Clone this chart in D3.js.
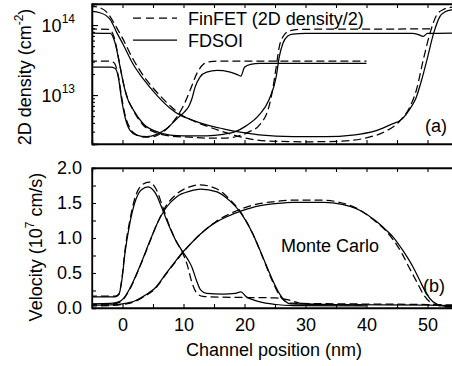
<!DOCTYPE html>
<html><head><meta charset="utf-8">
<script src="https://cdn.jsdelivr.net/npm/d3@7/dist/d3.min.js"></script>
<style>
html,body{margin:0;padding:0;background:#fff;}
svg{display:block;font-family:"Liberation Sans",Arial,Helvetica,sans-serif;}
</style></head>
<body><svg id="c" width="452" height="366"></svg>
<script>
// ---------- data (x in nm) ----------
const xTickLabels = [0, 10, 20, 30, 40, 50];
const velTickLabels = [0.0, 0.5, 1.0, 1.5, 2.0];
const densTickLabels = [{v: 1e13, e: "13"}, {v: 1e14, e: "14"}];
const legendLabels = ["FinFET (2D density/2)", "FDSOI"];

// 2D density, cm^-2
const densFinFET_L10 = [[-5.5,3.06e13],[-2.2,3.06e13],[-1.4,2.9e13],[-0.7,1.9e13],[-0.15,9.5e12],[0.4,5.3e12],[1.2,3.4e12],[2.3,2.7e12],[3.8,2.5e12],[5.4,2.6e12],[7.1,3.2e12],[8.7,4.6e12],[9.9,6.8e12],[11.1,1.18e13],[12.2,2.04e13],[13.3,2.77e13],[14.4,3.0e13],[16,3.06e13],[40,3.06e13]];
const densFDSOI_L10 = [[-5.5,2.5e13],[-2,2.5e13],[-1.2,2.4e13],[-0.7,1.83e13],[-0.14,8.5e12],[0.4,4.9e12],[1.2,3.16e12],[2.3,2.68e12],[4,2.54e12],[5.6,2.75e12],[7.2,3.3e12],[8.9,4.6e12],[10.2,5.8e12],[10.9,7.0e12],[11.4,9.0e12],[11.9,1.3e13],[12.7,1.81e13],[13.8,2.13e13],[15.5,2.25e13],[17.5,2.15e13],[18.7,1.98e13],[19.4,1.87e13],[20,2.5e13],[21,2.75e13],[22.5,2.84e13],[40,2.84e13]];
const densFinFET_L25 = [[-5.5,8.8e13],[-2.2,8.7e13],[-1.4,6.8e13],[-0.6,3.2e13],[0,1.7e13],[0.6,1.05e13],[1.7,6.2e12],[3.3,3.8e12],[5.5,2.9e12],[7.8,2.6e12],[11,2.5e12],[14,2.42e12],[16.5,2.42e12],[19,2.6e12],[20.8,3.0e12],[22.4,3.7e12],[24,6.8e12],[24.6,1.18e13],[25.2,2.54e13],[25.7,4.9e13],[26.3,6.8e13],[27.4,8.3e13],[29,8.7e13],[51,8.8e13]];
const densFDSOI_L25 = [[-5.5,7.7e13],[-2,7.6e13],[-1.2,5.5e13],[-0.4,2.54e13],[0.15,1.47e13],[0.7,9.5e12],[1.8,6.1e12],[3.4,3.9e12],[5.6,3.0e12],[7.8,2.68e12],[10,2.62e12],[13.8,2.62e12],[16.5,2.75e12],[18.5,3.0e12],[20.2,3.6e12],[22.4,5.2e12],[24,8.5e12],[25.2,1.83e13],[25.7,3.5e13],[26.3,5.5e13],[27.1,6.96e13],[27.9,7.4e13],[30,7.6e13],[47.5,7.6e13],[48.5,7.3e13],[49.3,6.9e13],[50,7.6e13],[56,7.7e13]];
const densFinFET_L50 = [[-5.5,1.87e14],[-4,1.8e14],[-2.5,1.5e14],[-1.2,1.0e14],[0,6.5e13],[1.7,3.3e13],[3.5,1.85e13],[5.7,1.08e13],[8,6.8e12],[9.5,5.3e12],[11.3,4.4e12],[14,3.55e12],[17,2.9e12],[20,2.45e12],[24,2.2e12],[30,2.15e12],[36,2.2e12],[40,2.45e12],[43,3.0e12],[45.5,4.3e12],[47,6.5e12],[48.2,1.2e13],[49.3,3.16e13],[50.4,7.6e13],[51.5,1.39e14],[52.6,1.67e14],[54,1.8e14],[56,1.85e14]];
const densFDSOI_L50 = [[-5.5,1.58e14],[-3.7,1.5e14],[-2,1.2e14],[-1,8.0e13],[0.15,5.2e13],[1.7,2.8e13],[3.4,1.7e13],[5.6,1.0e13],[7.8,6.5e12],[9.4,5.2e12],[11.1,4.5e12],[13.8,3.75e12],[16.5,3.3e12],[19.3,2.95e12],[22.4,2.7e12],[27.9,2.55e12],[33.4,2.55e12],[37.7,2.68e12],[41.6,3.1e12],[44,3.8e12],[45.9,4.6e12],[47.2,6.5e12],[48.1,9e12],[49,1.6e13],[49.9,3.16e13],[51,7.6e13],[52,1.31e14],[52.9,1.55e14],[54,1.65e14],[56,1.7e14]];

// velocity, 1e7 cm/s
const velFinFET_L10 = [[-5.5,0.17],[-1.2,0.17],[-0.6,0.2],[-0.1,0.42],[0.4,0.82],[1.2,1.25],[2.0,1.56],[3.1,1.75],[4.4,1.8],[5.5,1.7],[6.5,1.47],[7.5,1.22],[8.7,0.97],[9.9,0.78],[10.6,0.62],[11.4,0.36],[12.2,0.21],[13.2,0.165],[16,0.155],[20,0.15],[25,0.145],[27,0.12],[29,0.07],[32,0.05],[40,0.045]];
const velFDSOI_L10 = [[-5.5,0.16],[-1.2,0.16],[-0.6,0.19],[-0.1,0.4],[0.4,0.78],[1.2,1.21],[2.0,1.5],[3.1,1.69],[4.2,1.73],[5.4,1.64],[6.5,1.42],[7.5,1.2],[8.7,0.97],[9.9,0.8],[10.8,0.68],[11.4,0.58],[12.1,0.4],[12.8,0.26],[13.8,0.21],[16.5,0.2],[18.5,0.21],[19.4,0.23],[20.3,0.16],[22.4,0.09],[25.1,0.05],[28,0.035],[40,0.03]];
const velFinFET_L25 = [[-5.5,0.05],[-2,0.055],[-0.5,0.08],[0.2,0.13],[1.2,0.27],[2.9,0.6],[4.5,0.95],[5.6,1.19],[7.3,1.48],[8.9,1.63],[11,1.73],[12.6,1.76],[15.5,1.7],[17.6,1.55],[19.2,1.39],[21.3,1.07],[23,0.72],[24.6,0.38],[25.6,0.2],[26.6,0.1],[27.5,0.07],[35,0.06],[50,0.05],[56,0.04]];
const velFDSOI_L25 = [[-5.5,0.06],[-2,0.065],[-0.5,0.09],[0.2,0.14],[1.2,0.28],[2.9,0.61],[4.5,0.96],[5.6,1.19],[7.3,1.45],[8.9,1.59],[11.1,1.67],[12.8,1.7],[15.5,1.66],[17.6,1.53],[19.2,1.38],[21.3,1.07],[23,0.73],[24.6,0.4],[25.7,0.21],[26.8,0.09],[27.5,0.06],[35,0.05],[50,0.04],[56,0.03]];
const velFinFET_L50 = [[-5.5,0.03],[-2,0.035],[0,0.05],[2,0.09],[3.5,0.16],[5.5,0.29],[7.2,0.49],[8.6,0.65],[9.9,0.79],[11.2,0.92],[12.7,1.05],[15.4,1.24],[17,1.32],[19.6,1.42],[22.4,1.49],[25,1.52],[28,1.54],[33,1.54],[36,1.5],[38.5,1.42],[41,1.27],[43,1.12],[44.5,0.96],[45.8,0.78],[47.1,0.56],[48.2,0.38],[49.3,0.2],[50.5,0.08],[52,0.03],[54,0.015],[56,0.01]];
const velFDSOI_L50 = [[-5.5,0.04],[-2,0.045],[0,0.06],[2,0.1],[3.5,0.17],[5.5,0.3],[7.2,0.5],[8.6,0.66],[9.9,0.8],[11.2,0.92],[12.7,1.05],[15.4,1.23],[17,1.3],[19.6,1.39],[22.4,1.46],[25,1.49],[28,1.51],[33,1.51],[36,1.48],[38.8,1.4],[41.6,1.24],[43,1.13],[44.3,1.02],[45.9,0.83],[47.6,0.59],[48.7,0.4],[49.8,0.21],[50.9,0.09],[52.5,0.03],[54,0.015],[56,0.01]];

// ---------- drawing ----------
const svg = d3.select("#c");
const FS = 18;
const left = 92, rightEdge = 458;
const x = d3.scaleLinear().domain([-5, 55]).range([left, rightEdge]);
const yD = d3.scaleLog().domain([2e12, 2e14]).range([144, 4]);
const yV = d3.scaleLinear().domain([0, 2]).range([308, 168]);
const minorX = d3.range(-5, 56, 5);

function panel(id, y, top, bottom) {
  svg.append("clipPath").attr("id", id).append("rect")
    .attr("x", left).attr("y", top).attr("width", rightEdge - left).attr("height", bottom - top);
  const g = svg.append("g");
  // top & bottom axes (inward ticks, no labels)
  g.append("g").attr("transform", `translate(0,${top})`)
    .call(d3.axisTop(x).tickValues(minorX).tickSize(-4).tickFormat(""));
  g.append("g").attr("transform", `translate(0,${bottom})`)
    .call(d3.axisBottom(x).tickValues(minorX).tickSize(-4).tickFormat(""));
  return g;
}
function styleAxes(sel) {
  sel.selectAll(".domain").attr("stroke", "#000").attr("stroke-width", 1.3);
  sel.selectAll(".tick line").attr("stroke", "#000").attr("stroke-width", 1.1);
}

// ===== top panel =====
const gT = panel("clipT", yD, 4, 144);
const minorD = [];
[1e12, 1e13, 1e14].forEach(d => { for (let k = 2; k <= 9; k++) { const v = k * d; if (v >= 2e12 && v <= 2e14) minorD.push(v); } });
gT.append("g").attr("transform", `translate(${left},0)`)
  .call(d3.axisLeft(yD).tickValues(minorD).tickSize(-3).tickFormat(""));
gT.append("g").attr("transform", `translate(${left},0)`)
  .call(d3.axisLeft(yD).tickValues(densTickLabels.map(d => d.v)).tickSize(-6).tickFormat(""));
styleAxes(gT);
// log tick labels 10^n
densTickLabels.forEach(d => {
  const t = svg.append("text").attr("x", 75).attr("y", yD(d.v) + 6.5)
    .attr("text-anchor", "end").attr("font-size", FS);
  t.append("tspan").text("10");
  t.append("tspan").attr("dy", -9).attr("font-size", 12).text(d.e);
});

const lineD = d3.line().x(d => x(d[0])).y(d => yD(d[1])).curve(d3.curveMonotoneX);
const cT = svg.append("g").attr("clip-path", "url(#clipT)");
[[densFinFET_L10, true], [densFDSOI_L10, false], [densFinFET_L25, true], [densFDSOI_L25, false],
 [densFinFET_L50, true], [densFDSOI_L50, false]].forEach(([s, dashed]) => {
  cT.append("path").attr("d", lineD(s)).attr("fill", "none").attr("stroke", "#000")
    .attr("stroke-width", 1.25).attr("stroke-dasharray", dashed ? "8,4" : null);
});

// ===== bottom panel =====
const gB = panel("clipB", yV, 168, 308);
gB.append("g").attr("transform", `translate(${left},0)`)
  .call(d3.axisLeft(yV).tickValues(d3.range(0, 2.01, 0.25)).tickSize(-4).tickFormat(""));
gB.append("g").attr("transform", `translate(${left},0)`)
  .call(d3.axisLeft(yV).tickValues(velTickLabels).tickSize(0).tickPadding(10).tickFormat(d3.format(".1f")))
  .call(a => a.select(".domain").remove())
  .call(a => a.selectAll("text").attr("font-size", FS).attr("font-family", null).attr("fill", "#000"));
gB.append("g").attr("transform", `translate(0,308)`)
  .call(d3.axisBottom(x).tickValues(xTickLabels).tickSize(0).tickPadding(10).tickFormat(d3.format("d")))
  .call(a => a.select(".domain").remove())
  .call(a => a.selectAll("text").attr("font-size", FS).attr("font-family", null).attr("fill", "#000"));
styleAxes(gB);

const lineV = d3.line().x(d => x(d[0])).y(d => yV(d[1])).curve(d3.curveMonotoneX);
const cB = svg.append("g").attr("clip-path", "url(#clipB)");
[[velFinFET_L10, true], [velFDSOI_L10, false], [velFinFET_L25, true], [velFDSOI_L25, false],
 [velFinFET_L50, true], [velFDSOI_L50, false]].forEach(([s, dashed]) => {
  cB.append("path").attr("d", lineV(s)).attr("fill", "none").attr("stroke", "#000")
    .attr("stroke-width", 1.25).attr("stroke-dasharray", dashed ? "8,4" : null);
});

// frames
[[4, 144], [168, 308]].forEach(([t, b]) => {
  svg.append("rect").attr("x", left).attr("y", t).attr("width", rightEdge - left).attr("height", b - t)
    .attr("fill", "none").attr("stroke", "#000").attr("stroke-width", 1.3);
});

// legend
svg.append("line").attr("x1", 133).attr("x2", 177).attr("y1", 18).attr("y2", 18)
  .attr("stroke", "#000").attr("stroke-width", 1.25).attr("stroke-dasharray", "8,5");
svg.append("line").attr("x1", 133).attr("x2", 177).attr("y1", 40).attr("y2", 40)
  .attr("stroke", "#000").attr("stroke-width", 1.25);
svg.append("text").attr("x", 188).attr("y", 25).attr("font-size", FS).text(legendLabels[0]);
svg.append("text").attr("x", 188).attr("y", 47).attr("font-size", FS).text(legendLabels[1]);

// annotations
svg.append("text").attr("x", 425).attr("y", 132).attr("font-size", FS).text("(a)");
svg.append("text").attr("x", 423).attr("y", 292).attr("font-size", FS).text("(b)");
svg.append("text").attr("x", 281).attr("y", 252).attr("font-size", FS).text("Monte Carlo");

// axis titles
svg.append("text").attr("x", 274).attr("y", 356).attr("text-anchor", "middle").attr("font-size", FS)
  .text("Channel position (nm)");
const t1 = svg.append("text").attr("transform", "translate(31,77) rotate(-90)")
  .attr("text-anchor", "middle").attr("font-size", FS);
t1.append("tspan").text("2D density (cm");
t1.append("tspan").attr("dy", -8).attr("font-size", 12).text("-2");
t1.append("tspan").attr("dy", 8).text(")");
const t2 = svg.append("text").attr("transform", "translate(42,247) rotate(-90)")
  .attr("text-anchor", "middle").attr("font-size", FS);
t2.append("tspan").text("Velocity (10");
t2.append("tspan").attr("dy", -8).attr("font-size", 12).text("7");
t2.append("tspan").attr("dy", 8).text(" cm/s)");
</script></body></html>
